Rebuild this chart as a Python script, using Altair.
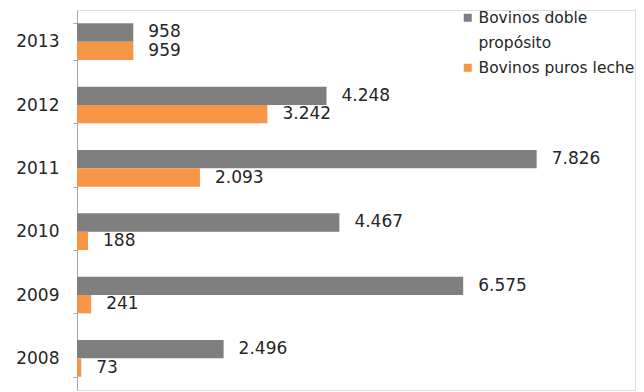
import altair as alt
import pandas as pd

years = ["2013", "2012", "2011", "2010", "2009", "2008"]
doble = [958, 4248, 7826, 4467, 6575, 2496]
leche = [959, 3242, 2093, 188, 241, 73]
series = ["Bovinos doble propósito", "Bovinos puros leche"]
colors = ["#7f7f7f", "#f79646"]

rows = []
for y, d, l in zip(years, doble, leche):
    rows.append({"year": y, "serie": series[0], "v": d})
    rows.append({"year": y, "serie": series[1], "v": l})
df = pd.DataFrame(rows)
df["label"] = df["v"].map(lambda v: f"{v:,}".replace(",", "."))

FONT = "DejaVu Sans"

y_enc = alt.Y("year:N", sort=years, title=None,
              scale=alt.Scale(paddingInner=0.42, paddingOuter=0.21),
              axis=alt.Axis(tickBand="extent", domainColor="#a6a6a6", tickColor="#a6a6a6",
                            tickSize=4, labelFontSize=17, labelFont=FONT, labelColor="#262626",
                            labelPadding=14))
x_enc = alt.X("v:Q", scale=alt.Scale(domain=[0, 9500], nice=False), axis=None)
yoff = alt.YOffset("serie:N", sort=series)

bars = alt.Chart(df).mark_bar().encode(
    y=y_enc, x=x_enc, yOffset=yoff,
    color=alt.Color("serie:N", sort=series,
                    scale=alt.Scale(domain=series, range=colors),
                    legend=alt.Legend(title=None, orient="none", legendX=383, legendY=0,
                                      symbolType="square", symbolSize=64, symbolStrokeWidth=0,
                                      labelFont=FONT, labelFontSize=15.5, labelColor="#262626",
                                      labelOffset=3, rowPadding=8, labelLimit=300,
                                      labelExpr="datum.label == 'Bovinos doble propósito' ? ['Bovinos doble', 'propósito'] : datum.label")),
)

text = alt.Chart(df).mark_text(align="left", baseline="middle", dx=15, fontSize=17,
                               font=FONT, color="#262626").encode(
    y=alt.Y("year:N", sort=years), x="v:Q", yOffset=yoff, text="label:N")

chart = alt.layer(bars, text).properties(
    width=558, height=380,
    autosize=alt.AutoSizeParams(type="none"),
    padding={"left": 77, "top": 10, "right": 9, "bottom": 2},
).configure_view(stroke=None).configure(style={"guide-label": {"lineHeight": 25}})

chart.save("out.html", embed_options={"renderer": "svg", "actions": False})
